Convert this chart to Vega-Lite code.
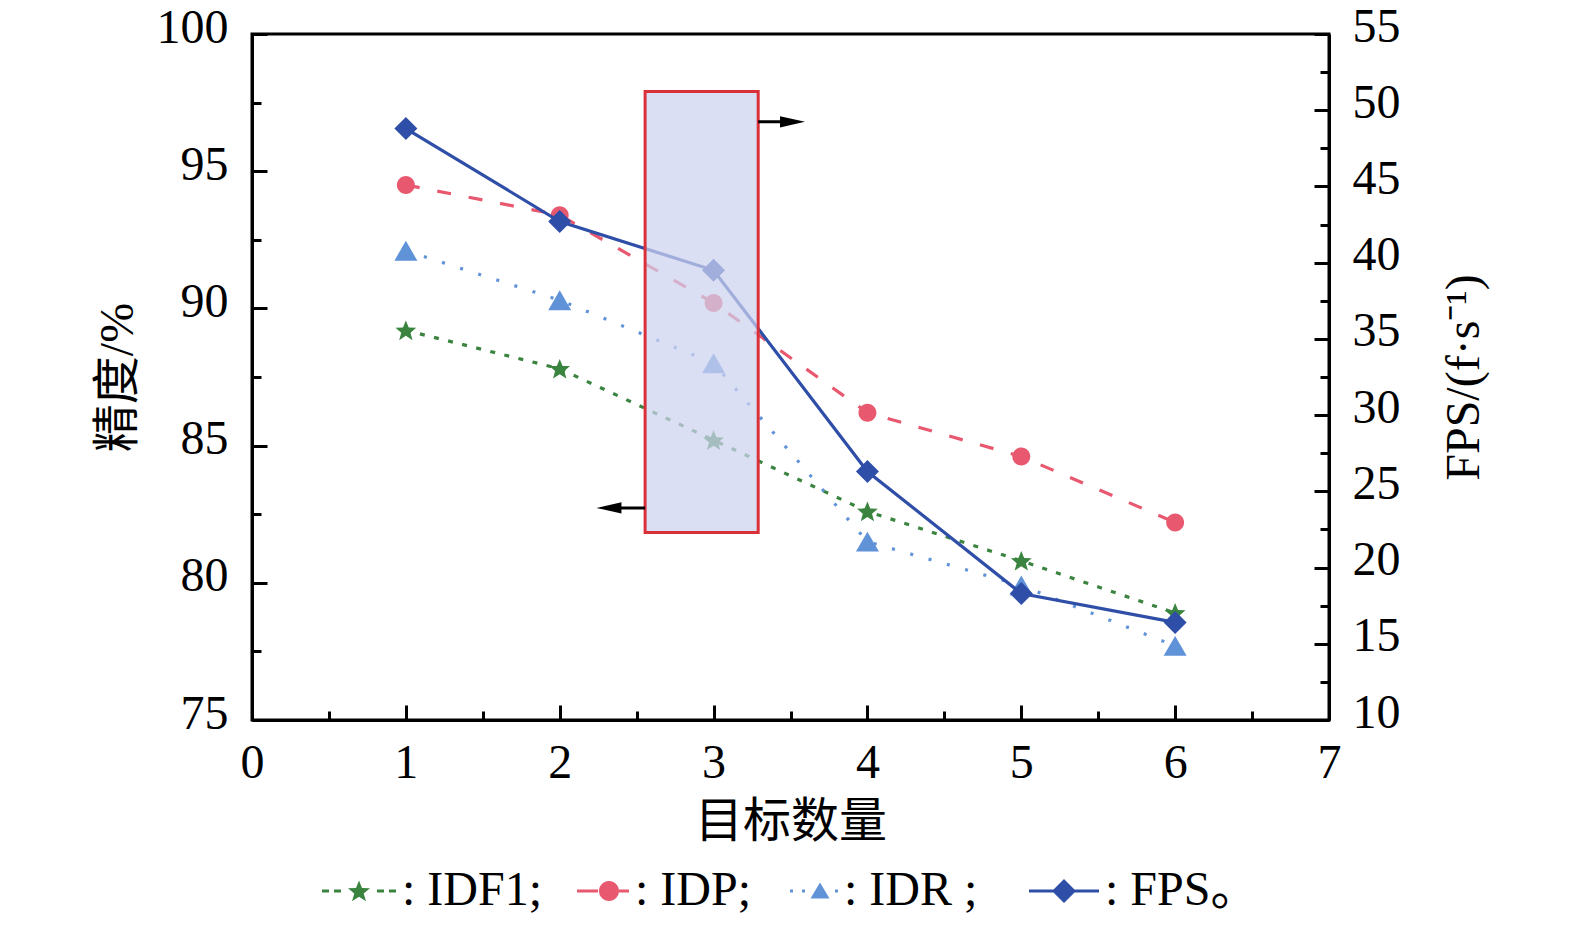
{
  "$schema": "https://vega.github.io/schema/vega-lite/v6.json",
  "width": 1077,
  "height": 686,
  "autosize": "none",
  "padding": {"left": 252, "top": 34, "right": 246, "bottom": 205},
  "background": "white",
  "config": {
    "view": {"stroke": "black", "strokeWidth": 3},
    "axis": {
      "domainColor": "black",
      "domainWidth": 3,
      "tickColor": "black",
      "tickWidth": 3,
      "grid": false,
      "labelFont": "Liberation Serif",
      "labelFontSize": 48,
      "labelColor": "black",
      "labelFlush": false,
      "titleFont": "Liberation Serif, Noto Sans CJK SC",
      "titleFontSize": 48,
      "titleFontWeight": "normal",
      "titleColor": "black"
    }
  },
  "datasets": {
    "metrics": [
      {"n": 1, "series": "IDF1", "value": 89.2},
      {"n": 2, "series": "IDF1", "value": 87.8},
      {"n": 3, "series": "IDF1", "value": 85.2},
      {"n": 4, "series": "IDF1", "value": 82.6},
      {"n": 5, "series": "IDF1", "value": 80.8},
      {"n": 6, "series": "IDF1", "value": 78.9},
      {"n": 1, "series": "IDP", "value": 94.5},
      {"n": 2, "series": "IDP", "value": 93.4},
      {"n": 3, "series": "IDP", "value": 90.2},
      {"n": 4, "series": "IDP", "value": 86.2},
      {"n": 5, "series": "IDP", "value": 84.6},
      {"n": 6, "series": "IDP", "value": 82.2},
      {"n": 1, "series": "IDR", "value": 92.1},
      {"n": 2, "series": "IDR", "value": 90.3},
      {"n": 3, "series": "IDR", "value": 88.0},
      {"n": 4, "series": "IDR", "value": 81.5},
      {"n": 5, "series": "IDR", "value": 79.9},
      {"n": 6, "series": "IDR", "value": 77.7},
      {"n": 1, "series": "FPS", "value": 48.8},
      {"n": 2, "series": "FPS", "value": 42.7},
      {"n": 3, "series": "FPS", "value": 39.5},
      {"n": 4, "series": "FPS", "value": 26.3},
      {"n": 5, "series": "FPS", "value": 18.3},
      {"n": 6, "series": "FPS", "value": 16.4}
    ],
    "box": [{"x": 2.555, "x2": 3.29, "y": 81.83, "y2": 97.9}],
    "arrows": [
      {"x": 3.29, "hx": 3.513, "y": 96.8, "dir": "right"},
      {"x": 2.555, "hx": 2.32, "y": 82.73, "dir": "left"}
    ]
  },
  "layer": [
    {
      "data": {"name": "metrics"},
      "mark": {"type": "point", "filled": true, "opacity": 0, "size": 400},
      "encoding": {
        "x": {"field": "n", "type": "quantitative", "scale": {"domain": [0, 7], "nice": false, "zero": false}, "axis": null},
        "y": {"field": "value", "type": "quantitative", "scale": {"domain": [0, 100], "nice": false, "zero": false}, "axis": null},
        "color": {
          "field": "series", "type": "nominal",
          "scale": {"domain": ["IDF1", "IDP", "IDR", "FPS"], "range": ["#3a8440", "#e8586f", "#6092d8", "#2f4ea8"]},
          "legend": {
            "orient": "none", "legendX": 58, "legendY": 833, "direction": "horizontal", "columns": 4,
            "title": null, "padding": 0, "symbolSize": 400, "symbolStrokeWidth": 0, "symbolOpacity": 1, "labelOffset": 44,
            "labelFont": "Liberation Serif, Noto Sans CJK SC", "labelFontSize": 48, "labelColor": "black", "labelLimit": 500,
            "columnPadding": 0,
            "labelExpr": "datum.label === 'FPS' ? ': FPS。' : datum.label === 'IDR' ? ': IDR ;\u2800' : datum.label === 'IDP' ? ': IDP;' : ': IDF1;'"
          }
        },
        "shape": {
          "field": "series", "type": "nominal",
          "scale": {
            "domain": ["IDF1", "IDP", "IDR", "FPS"],
            "range": [
              "M-1.2,-0.15H-0.5V0.15H-1.2Z M0,-0.15H0.7V0.15H0Z M2.5,-1.05L2.8,-0.3L3.6,-0.28L2.97,0.24L3.2,1.03L2.5,0.58L1.8,1.03L2.03,0.24L1.4,-0.28L2.2,-0.3Z M4.3,-0.15H5V0.15H4.3Z M5.5,-0.15H6.2V0.15H5.5Z",
              "M1,-0.15H3.1V0.15H1Z M5.2,0A1,1,0,1,1,3.2,0A1,1,0,1,1,5.2,0Z M5.2,-0.15H6.2V0.15H5.2Z",
              "M1.4,-0.15H1.7V0.15H1.4Z M2.6,-0.15H2.9V0.15H2.6Z M4.4,-0.85L5.35,0.75L3.45,0.75Z M5.9,-0.15H6.2V0.15H5.9Z",
              "M-0.8,-0.15H1.7V0.15H-0.8Z M2.7,-1.2L3.9,0L2.7,1.2L1.5,0Z M3.7,-0.15H6.2V0.15H3.7Z"
            ]
          },
          "legend": {
            "orient": "none", "legendX": 58, "legendY": 833, "direction": "horizontal", "columns": 4,
            "title": null, "padding": 0, "symbolSize": 400, "symbolStrokeWidth": 0, "symbolOpacity": 1, "labelOffset": 44,
            "labelFont": "Liberation Serif, Noto Sans CJK SC", "labelFontSize": 48, "labelColor": "black", "labelLimit": 500,
            "columnPadding": 0,
            "labelExpr": "datum.label === 'FPS' ? ': FPS。' : datum.label === 'IDR' ? ': IDR ;\u2800' : datum.label === 'IDP' ? ': IDP;' : ': IDF1;'"
          }
        }
      }
    },
    {
      "data": {"name": "metrics"},
      "transform": [{"filter": "datum.series === 'IDF1'"}],
      "mark": {"type": "line", "strokeWidth": 3.2, "strokeCap": "butt", "color": "#3a8440", "strokeDash": [5, 9.5]},
      "encoding": {
        "x": {
          "field": "n", "type": "quantitative",
          "scale": {"domain": [0, 7], "nice": false, "zero": false},
          "axis": {"orient": "bottom", "values": [0, 1, 2, 3, 4, 5, 6, 7], "format": "d", "tickSize": -15, "labelPadding": 34, "title": "目标数量", "titlePadding": 11}
        },
        "y": {
          "field": "value", "type": "quantitative",
          "scale": {"domain": [75, 100], "nice": false, "zero": false},
          "axis": {"orient": "left", "values": [75, 80, 85, 90, 95, 100], "tickSize": -15, "labelPadding": 39, "labelOffset": -6, "title": "精度/%", "titlePadding": 14}
        }
      }
    },
    {
      "data": {"name": "metrics"},
      "transform": [{"filter": "datum.series === 'IDP'"}],
      "mark": {"type": "line", "strokeWidth": 3.2, "strokeCap": "butt", "color": "#e8586f", "strokeDash": [14, 18]},
      "encoding": {
        "x": {"field": "n", "type": "quantitative", "scale": {"domain": [0, 7], "nice": false, "zero": false}, "axis": null},
        "y": {"field": "value", "type": "quantitative", "scale": {"domain": [75, 100], "nice": false, "zero": false}, "axis": null}
      }
    },
    {
      "data": {"name": "metrics"},
      "transform": [{"filter": "datum.series === 'IDR'"}],
      "mark": {"type": "line", "strokeWidth": 3.2, "strokeCap": "butt", "color": "#6092d8", "strokeDash": [3, 16]},
      "encoding": {
        "x": {"field": "n", "type": "quantitative", "scale": {"domain": [0, 7], "nice": false, "zero": false}, "axis": null},
        "y": {"field": "value", "type": "quantitative", "scale": {"domain": [75, 100], "nice": false, "zero": false}, "axis": null}
      }
    },
    {
      "data": {"name": "metrics"},
      "transform": [{"filter": "datum.series === 'IDF1'"}],
      "mark": {"type": "point", "filled": true, "opacity": 1, "size": 529, "strokeWidth": 0, "color": "#3a8440", "shape": "M0,-0.86L0.25,-0.25L0.9,-0.23L0.4,0.2L0.58,0.85L0,0.48L-0.58,0.85L-0.4,0.2L-0.9,-0.23L-0.25,-0.25Z"},
      "encoding": {
        "x": {
          "field": "n", "type": "quantitative",
          "scale": {"domain": [0, 7], "nice": false, "zero": false},
          "axis": {"orient": "bottom", "values": [0.5, 1.5, 2.5, 3.5, 4.5, 5.5, 6.5], "tickSize": -9, "labels": false, "domain": false, "title": null}
        },
        "y": {
          "field": "value", "type": "quantitative",
          "scale": {"domain": [75, 100], "nice": false, "zero": false},
          "axis": {"orient": "left", "values": [77.5, 82.5, 87.5, 92.5, 97.5], "tickSize": -9, "labels": false, "domain": false, "title": null}
        }
      }
    },
    {
      "data": {"name": "metrics"},
      "transform": [{"filter": "datum.series === 'IDP'"}],
      "mark": {"type": "point", "filled": true, "opacity": 1, "size": 529, "strokeWidth": 0, "color": "#e8586f", "shape": "M0.78,0A0.78,0.78,0,1,1,-0.78,0A0.78,0.78,0,1,1,0.78,0Z"},
      "encoding": {
        "x": {"field": "n", "type": "quantitative", "scale": {"domain": [0, 7], "nice": false, "zero": false}, "axis": null},
        "y": {"field": "value", "type": "quantitative", "scale": {"domain": [75, 100], "nice": false, "zero": false}, "axis": null}
      }
    },
    {
      "data": {"name": "metrics"},
      "transform": [{"filter": "datum.series === 'IDR'"}],
      "mark": {"type": "point", "filled": true, "opacity": 1, "size": 529, "strokeWidth": 0, "color": "#6092d8", "shape": "triangle-up"},
      "encoding": {
        "x": {"field": "n", "type": "quantitative", "scale": {"domain": [0, 7], "nice": false, "zero": false}, "axis": null},
        "y": {"field": "value", "type": "quantitative", "scale": {"domain": [75, 100], "nice": false, "zero": false}, "axis": null}
      }
    },
    {
      "data": {"name": "metrics"},
      "transform": [{"filter": "datum.series === 'FPS'"}],
      "mark": {"type": "line", "strokeWidth": 3.2, "color": "#2f4ea8"},
      "encoding": {
        "x": {"field": "n", "type": "quantitative", "scale": {"domain": [0, 7], "nice": false, "zero": false}, "axis": null},
        "y": {
          "field": "value", "type": "quantitative",
          "scale": {"domain": [10, 55], "nice": false, "zero": false},
          "axis": {"orient": "right", "values": [10, 15, 20, 25, 30, 35, 40, 45, 50, 55], "tickSize": -15, "labelPadding": 38, "labelOffset": -7, "title": "FPS/(f·s⁻¹)", "titleFont": "Liberation Serif", "titleAngle": 270, "titleBaseline": "top", "titlePadding": 40}
        }
      }
    },
    {
      "data": {"name": "metrics"},
      "transform": [{"filter": "datum.series === 'FPS'"}],
      "mark": {"type": "point", "filled": true, "opacity": 1, "size": 529, "strokeWidth": 0, "color": "#2f4ea8", "shape": "diamond"},
      "encoding": {
        "x": {"field": "n", "type": "quantitative", "scale": {"domain": [0, 7], "nice": false, "zero": false}, "axis": null},
        "y": {
          "field": "value", "type": "quantitative",
          "scale": {"domain": [10, 55], "nice": false, "zero": false},
          "axis": {"orient": "right", "values": [12.5, 17.5, 22.5, 27.5, 32.5, 37.5, 42.5, 47.5, 52.5], "tickSize": -9, "labels": false, "domain": false, "title": null}
        }
      }
    },
    {
      "layer": [
        {
          "data": {"name": "box"},
          "mark": {"type": "rect", "fill": "#cdd2ee", "fillOpacity": 0.72, "stroke": "#d9303a", "strokeWidth": 3},
          "encoding": {
            "x": {"field": "x", "type": "quantitative", "scale": {"domain": [0, 7], "nice": false, "zero": false}, "axis": null},
            "x2": {"field": "x2"},
            "y": {"field": "y", "type": "quantitative", "scale": {"domain": [75, 100], "nice": false, "zero": false}, "axis": null},
            "y2": {"field": "y2"}
          }
        },
        {
          "data": {"name": "arrows"},
          "mark": {"type": "rule", "strokeWidth": 3, "color": "black"},
          "encoding": {
            "x": {"field": "x", "type": "quantitative"},
            "x2": {"field": "hx"},
            "y": {"field": "y", "type": "quantitative"}
          }
        },
        {
          "data": {"name": "arrows"},
          "transform": [{"filter": "datum.dir === 'right'"}],
          "mark": {"type": "point", "shape": "M-1,-0.45L1,0L-1,0.45Z", "size": 625, "filled": true, "color": "black", "opacity": 1, "strokeWidth": 0},
          "encoding": {
            "x": {"field": "hx", "type": "quantitative"},
            "y": {"field": "y", "type": "quantitative"}
          }
        },
        {
          "data": {"name": "arrows"},
          "transform": [{"filter": "datum.dir === 'left'"}],
          "mark": {"type": "point", "shape": "M1,-0.45L-1,0L1,0.45Z", "size": 625, "filled": true, "color": "black", "opacity": 1, "strokeWidth": 0},
          "encoding": {
            "x": {"field": "hx", "type": "quantitative"},
            "y": {"field": "y", "type": "quantitative"}
          }
        }
      ]
    }
  ],
  "resolve": {"scale": {"x": "independent", "y": "independent"}}
}
